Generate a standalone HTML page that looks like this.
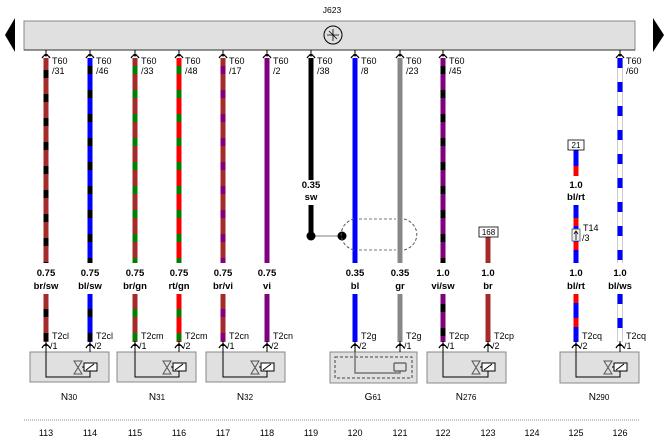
<!DOCTYPE html>
<html><head><meta charset="utf-8"><style>
html,body{margin:0;padding:0;background:#fff;}
svg{display:block;font-family:"Liberation Sans",Arial,sans-serif;}
.l{font-size:9px;fill:#000;}
.b{font-size:9.5px;font-weight:bold;fill:#000;text-anchor:middle;}
.n{font-size:9.5px;fill:#000;text-anchor:middle;}
</style></head><body>
<svg width="664" height="443" viewBox="0 0 664 443" xmlns="http://www.w3.org/2000/svg">
<defs>
<g id="ct"><path d="M-4,58 Q0,52 4,58" fill="none" stroke="#000" stroke-width="1.3"/><line x1="0" y1="50" x2="0" y2="56" stroke="#000" stroke-width="1"/><path d="M-2,54 L2,54 L0,57 Z" fill="#000"/></g>
<g id="cb"><path d="M-4,348 Q0,341 4,348" fill="none" stroke="#000" stroke-width="1.3"/><line x1="0" y1="341" x2="0" y2="352" stroke="#000" stroke-width="1"/><path d="M-2,346 L2,346 L0,342 Z" fill="#000"/></g>
</defs>
<text x="332" y="13" class="n" style="font-size:8.5px">J623</text>
<path d="M5,35 L15,18 L15,52 Z" fill="#000"/>
<path d="M653,18 L664,35 L653,52 Z" fill="#000"/>
<rect x="24" y="21" width="611" height="29" fill="#e0e0e0" stroke="#888" stroke-width="1"/>
<line x1="24" y1="50" x2="635" y2="50" stroke="#555" stroke-width="1.2"/>
<circle cx="333" cy="35" r="9" fill="none" stroke="#000"/>
<path d="M333,29 L333,41 M327,35 L339,35 M329,31 L337,39" stroke="#000" stroke-width="0.8"/>

<!-- wires top -->
<g stroke-width="5" fill="none">
<line x1="46" y1="58" x2="46" y2="263" stroke="#a52a2a"/><line x1="46" y1="70" x2="46" y2="263" stroke="#000" stroke-dasharray="8 16"/>
<line x1="90" y1="58" x2="90" y2="263" stroke="#0000ff"/><line x1="90" y1="66" x2="90" y2="263" stroke="#000" stroke-dasharray="8 16"/>
<line x1="135" y1="58" x2="135" y2="263" stroke="#a52a2a"/><line x1="135" y1="66" x2="135" y2="263" stroke="#008000" stroke-dasharray="8 16"/>
<line x1="179" y1="58" x2="179" y2="263" stroke="#ff0000"/><line x1="179" y1="66" x2="179" y2="263" stroke="#008000" stroke-dasharray="8 16"/>
<line x1="223" y1="58" x2="223" y2="263" stroke="#a52a2a"/><line x1="223" y1="66" x2="223" y2="263" stroke="#800080" stroke-dasharray="8 16"/>
<line x1="267" y1="58" x2="267" y2="263" stroke="#800080"/>
<line x1="311" y1="58" x2="311" y2="180" stroke="#000"/>
<line x1="311" y1="205" x2="311" y2="236" stroke="#000"/>
<line x1="355" y1="58" x2="355" y2="263" stroke="#0000ff"/>
<line x1="400" y1="58" x2="400" y2="263" stroke="#888"/>
<line x1="443" y1="58" x2="443" y2="263" stroke="#800080"/><line x1="443" y1="66" x2="443" y2="263" stroke="#000" stroke-dasharray="8 16"/>
<line x1="488" y1="236" x2="488" y2="263" stroke="#a52a2a"/>
<line x1="576" y1="150" x2="576" y2="176" stroke="#0000ff"/><line x1="576" y1="166" x2="576" y2="176" stroke="#ff0000"/>
<line x1="576" y1="205" x2="576" y2="263" stroke="#0000ff"/><line x1="576" y1="218" x2="576" y2="263" stroke="#ff0000" stroke-dasharray="8 16"/>
<line x1="620" y1="58" x2="620" y2="263" stroke="#ccc" stroke-width="6"/><line x1="620" y1="58" x2="620" y2="263" stroke="#fff" stroke-width="4"/><line x1="620" y1="58" x2="620" y2="263" stroke="#0000ff" stroke-dasharray="10 14"/>
</g>
<!-- bottom wires -->
<g stroke-width="5" fill="none">
<line x1="46" y1="294" x2="46" y2="342" stroke="#a52a2a"/><line x1="46" y1="309" x2="46" y2="342" stroke="#000" stroke-dasharray="8 16"/>
<line x1="90" y1="294" x2="90" y2="342" stroke="#0000ff"/><line x1="90" y1="309" x2="90" y2="342" stroke="#000" stroke-dasharray="8 16"/>
<line x1="135" y1="294" x2="135" y2="342" stroke="#a52a2a"/><line x1="135" y1="309" x2="135" y2="342" stroke="#008000" stroke-dasharray="8 16"/>
<line x1="179" y1="294" x2="179" y2="342" stroke="#ff0000"/><line x1="179" y1="309" x2="179" y2="342" stroke="#008000" stroke-dasharray="8 16"/>
<line x1="223" y1="294" x2="223" y2="342" stroke="#a52a2a"/><line x1="223" y1="309" x2="223" y2="342" stroke="#800080" stroke-dasharray="8 16"/>
<line x1="267" y1="294" x2="267" y2="342" stroke="#800080"/>
<line x1="355" y1="294" x2="355" y2="342" stroke="#0000ff"/>
<line x1="400" y1="294" x2="400" y2="342" stroke="#888"/>
<line x1="443" y1="294" x2="443" y2="342" stroke="#800080"/><line x1="443" y1="304" x2="443" y2="342" stroke="#000" stroke-dasharray="8 16"/>
<line x1="488" y1="294" x2="488" y2="342" stroke="#a52a2a"/>
<line x1="576" y1="294" x2="576" y2="342" stroke="#0000ff"/><line x1="576" y1="294" x2="576" y2="342" stroke="#ff0000" stroke-dasharray="9 15"/>
<line x1="620" y1="294" x2="620" y2="342" stroke="#ccc" stroke-width="6"/><line x1="620" y1="294" x2="620" y2="342" stroke="#fff" stroke-width="4"/><line x1="620" y1="294" x2="620" y2="342" stroke="#0000ff" stroke-dasharray="10 14"/>
</g>

<!-- top connectors & labels -->
<use href="#ct" x="46"/><use href="#ct" x="90"/><use href="#ct" x="135"/><use href="#ct" x="179"/><use href="#ct" x="223"/><use href="#ct" x="267"/><use href="#ct" x="311"/><use href="#ct" x="355"/><use href="#ct" x="400"/><use href="#ct" x="443"/><use href="#ct" x="620"/>
<g class="l">
<text x="52" y="64">T60</text><text x="52" y="74">/31</text>
<text x="96" y="64">T60</text><text x="96" y="74">/46</text>
<text x="141" y="64">T60</text><text x="141" y="74">/33</text>
<text x="185" y="64">T60</text><text x="185" y="74">/48</text>
<text x="229" y="64">T60</text><text x="229" y="74">/17</text>
<text x="273" y="64">T60</text><text x="273" y="74">/2</text>
<text x="317" y="64">T60</text><text x="317" y="74">/38</text>
<text x="361" y="64">T60</text><text x="361" y="74">/8</text>
<text x="406" y="64">T60</text><text x="406" y="74">/23</text>
<text x="449" y="64">T60</text><text x="449" y="74">/45</text>
<text x="626" y="64">T60</text><text x="626" y="74">/60</text>
</g>

<!-- 119 splice & shield -->
<text x="311" y="188" class="b">0.35</text><text x="311" y="200" class="b">sw</text>
<line x1="311" y1="236" x2="342" y2="236" stroke="#999" stroke-width="1.2"/>
<circle cx="311" cy="236" r="4.5" fill="#000"/><circle cx="342" cy="236" r="4.5" fill="#000"/>
<path d="M354,219 A17,16 0 0,0 354,250" fill="none" stroke="#555" stroke-dasharray="3 2"/>
<path d="M404,219 A17,16 0 0,1 404,250" fill="none" stroke="#555" stroke-dasharray="3 2"/>
<line x1="359" y1="219" x2="396" y2="219" stroke="#777" stroke-dasharray="3 2"/>
<line x1="359" y1="250" x2="396" y2="250" stroke="#777" stroke-dasharray="3 2"/>

<!-- 123 & 125 boxes -->
<rect x="479" y="227" width="19" height="10" fill="#fff" stroke="#000" stroke-width="0.8"/><text x="488.5" y="235" class="n" style="font-size:8px">168</text>
<rect x="568" y="140" width="16" height="10" fill="#fff" stroke="#000" stroke-width="0.8"/><text x="576" y="148" class="n" style="font-size:8px">21</text>
<text x="576" y="188" class="b">1.0</text><text x="576" y="200" class="b">bl/rt</text>
<rect x="572" y="229" width="8" height="12" fill="#eee" stroke="#555" stroke-width="0.8"/>
<path d="M576,240 L576,232 M574,234 L576,231 L578,234" stroke="#000" fill="none" stroke-width="0.8"/>
<text x="583" y="231" class="l">T14</text><text x="582" y="241" class="l">/3</text>

<!-- mid labels -->
<g class="b">
<text x="46" y="276">0.75</text><text x="46" y="289">br/sw</text>
<text x="90" y="276">0.75</text><text x="90" y="289">bl/sw</text>
<text x="135" y="276">0.75</text><text x="135" y="289">br/gn</text>
<text x="179" y="276">0.75</text><text x="179" y="289">rt/gn</text>
<text x="223" y="276">0.75</text><text x="223" y="289">br/vi</text>
<text x="267" y="276">0.75</text><text x="267" y="289">vi</text>
<text x="355" y="276">0.35</text><text x="355" y="289">bl</text>
<text x="400" y="276">0.35</text><text x="400" y="289">gr</text>
<text x="443" y="276">1.0</text><text x="443" y="289">vi/sw</text>
<text x="488" y="276">1.0</text><text x="488" y="289">br</text>
<text x="576" y="276">1.0</text><text x="576" y="289">bl/rt</text>
<text x="620" y="276">1.0</text><text x="620" y="289">bl/ws</text>
</g>

<!-- bottom connector labels -->
<g class="l">
<text x="52" y="339">T2cl</text><text x="50" y="349">/1</text>
<text x="96" y="339">T2cl</text><text x="94" y="349">/2</text>
<text x="141" y="339">T2cm</text><text x="139" y="349">/1</text>
<text x="185" y="339">T2cm</text><text x="183" y="349">/2</text>
<text x="229" y="339">T2cn</text><text x="227" y="349">/1</text>
<text x="273" y="339">T2cn</text><text x="271" y="349">/2</text>
<text x="361" y="339">T2g</text><text x="359" y="349">/2</text>
<text x="406" y="339">T2g</text><text x="404" y="349">/1</text>
<text x="449" y="339">T2cp</text><text x="447" y="349">/1</text>
<text x="494" y="339">T2cp</text><text x="492" y="349">/2</text>
<text x="582" y="339">T2cq</text><text x="580" y="349">/2</text>
<text x="626" y="339">T2cq</text><text x="624" y="349">/1</text>
</g>

<!-- component boxes -->
<g fill="#e0e0e0" stroke="#888" stroke-width="1">
<rect x="30" y="352" width="79" height="30"/>
<rect x="117" y="352" width="79" height="30"/>
<rect x="206" y="352" width="79" height="30"/>
<rect x="330" y="352" width="87" height="31"/>
<rect x="427" y="352" width="79" height="31"/>
<rect x="560" y="352" width="79" height="31"/>
</g>
<rect x="335" y="357" width="77" height="21" fill="none" stroke="#444" stroke-dasharray="3 2"/>
<path d="M355,352 L355,373 L400,373 L400,366" fill="none" stroke="#777" stroke-width="1.5"/>
<rect x="394" y="363" width="12" height="8" rx="1" fill="#e0e0e0" stroke="#555" stroke-width="1.2"/>

<!-- valves -->
<g fill="none" stroke="#000" stroke-width="1">
<path d="M46,350 L46,377 L90,377 L90,363"/><rect x="84" y="363" width="13" height="8" fill="#fff"/><path d="M86,370 L94,364"/><path d="M74,361 L82,361 L74,374 L82,374 Z" stroke="#555"/><line x1="82" y1="367" x2="84" y2="367"/>
<path d="M135,350 L135,377 L179,377 L179,363"/><rect x="173" y="363" width="13" height="8" fill="#fff"/><path d="M175,370 L183,364"/><path d="M163,361 L171,361 L163,374 L171,374 Z" stroke="#555"/><line x1="171" y1="367" x2="173" y2="367"/>
<path d="M223,350 L223,377 L267,377 L267,363"/><rect x="261" y="363" width="13" height="8" fill="#fff"/><path d="M263,370 L271,364"/><path d="M251,361 L259,361 L251,374 L259,374 Z" stroke="#555"/><line x1="259" y1="367" x2="261" y2="367"/>
<path d="M443,350 L443,377 L488,377 L488,363"/><rect x="482" y="363" width="13" height="8" fill="#fff"/><path d="M484,370 L492,364"/><path d="M472,361 L480,361 L472,374 L480,374 Z" stroke="#555"/><line x1="480" y1="367" x2="482" y2="367"/>
<path d="M576,350 L576,377 L620,377 L620,363"/><rect x="614" y="363" width="13" height="8" fill="#fff"/><path d="M616,370 L624,364"/><path d="M604,361 L612,361 L604,374 L612,374 Z" stroke="#555"/><line x1="612" y1="367" x2="614" y2="367"/>
</g>

<use href="#cb" x="46"/><use href="#cb" x="90"/><use href="#cb" x="135"/><use href="#cb" x="179"/><use href="#cb" x="223"/><use href="#cb" x="267"/><use href="#cb" x="355"/><use href="#cb" x="400"/><use href="#cb" x="443"/><use href="#cb" x="488"/><use href="#cb" x="576"/><use href="#cb" x="620"/>

<g class="n" style="font-size:10px">
<text x="69" y="400">N<tspan style="font-size:8px">30</tspan></text>
<text x="157" y="400">N<tspan style="font-size:8px">31</tspan></text>
<text x="245" y="400">N<tspan style="font-size:8px">32</tspan></text>
<text x="373" y="400">G<tspan style="font-size:8px">61</tspan></text>
<text x="466" y="400">N<tspan style="font-size:8px">276</tspan></text>
<text x="599" y="400">N<tspan style="font-size:8px">290</tspan></text>
</g>

<line x1="24" y1="420" x2="640" y2="420" stroke="#888" stroke-dasharray="1 1"/>
<g class="n" style="font-size:9px">
<text x="46" y="436">113</text><text x="90" y="436">114</text><text x="135" y="436">115</text><text x="179" y="436">116</text><text x="223" y="436">117</text><text x="267" y="436">118</text><text x="311" y="436">119</text><text x="355" y="436">120</text><text x="400" y="436">121</text><text x="443" y="436">122</text><text x="488" y="436">123</text><text x="532" y="436">124</text><text x="576" y="436">125</text><text x="620" y="436">126</text>
</g>
</svg>
</body></html>
